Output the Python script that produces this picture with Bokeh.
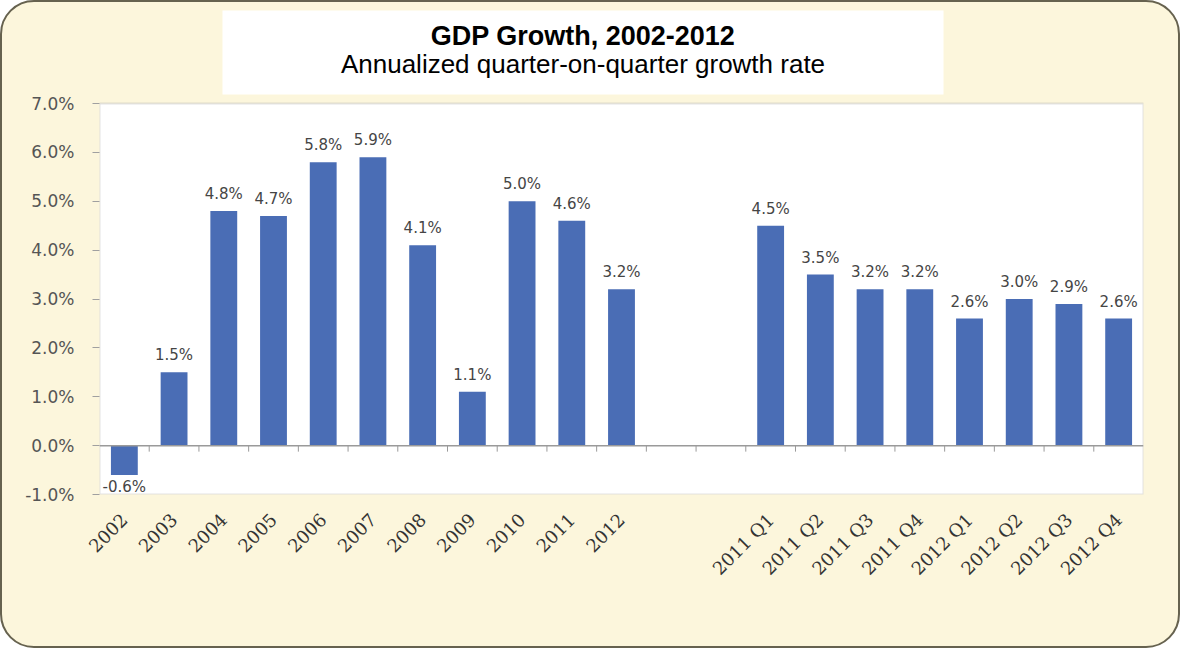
import math
from bokeh.plotting import figure
from bokeh.models import (ColumnDataSource, FactorRange, Range1d, FixedTicker,
                          PrintfTickFormatter, BoxAnnotation, Label, Span)
from bokeh.transform import dodge
from bokeh.core.properties import value
from bokeh.embed import file_html
from bokeh.resources import INLINE

# ---------------- data ----------------
annual_labels = ["2002", "2003", "2004", "2005", "2006", "2007", "2008",
                 "2009", "2010", "2011", "2012"]
annual_values = [-0.6, 1.5, 4.8, 4.7, 5.8, 5.9, 4.1, 1.1, 5.0, 4.6, 3.2]
gap_labels = [" ", "  "]
quarter_labels = ["2011 Q1", "2011 Q2", "2011 Q3", "2011 Q4",
                  "2012 Q1", "2012 Q2", "2012 Q3", "2012 Q4"]
quarter_values = [4.5, 3.5, 3.2, 3.2, 2.6, 3.0, 2.9, 2.6]
y_ticks = [-1, 0, 1, 2, 3, 4, 5, 6, 7]
title_text = "GDP Growth, 2002-2012"
subtitle_text = "Annualized quarter-on-quarter growth rate"

# ---------------- derived ----------------
factors = annual_labels + gap_labels + quarter_labels
cats = annual_labels + quarter_labels
vals = annual_values + quarter_values
labels = [f"{v:.1f}%" for v in vals]

src = ColumnDataSource(dict(cat=cats, val=vals, label=labels))
pos = [i for i, v in enumerate(vals) if v >= 0]
neg = [i for i, v in enumerate(vals) if v < 0]
pos_src = ColumnDataSource(dict(cat=[cats[i] for i in pos], val=[vals[i] for i in pos],
                                label=[labels[i] for i in pos]))
neg_src = ColumnDataSource(dict(cat=[cats[i] for i in neg], val=[vals[i] for i in neg],
                                label=[labels[i] for i in neg]))
tick_src = ColumnDataSource(dict(cat=factors[1:], zero=[0] * (len(factors) - 1)))

# ---------------- layout (pixels) ----------------
W, H = 1180, 648                 # canvas (plus 2px css border each side)
ML, MR, MT, MB = 97, 39, 4, 156  # frame extends up to hold the title box
FW = W - ML - MR
PLOT_TOP_PX = 101                # top of the white plot area, canvas px
FRAME_BOTTOM_PX = H - MB
y_lo, y_hi = y_ticks[0], y_ticks[-1]
ppu = (FRAME_BOTTOM_PX - PLOT_TOP_PX) / (y_hi - y_lo)


def px_to_y(py):
    return y_hi + (PLOT_TOP_PX - py) / ppu


y_top = px_to_y(MT)

p = figure(width=W, height=H, x_range=FactorRange(*factors), y_range=Range1d(y_lo, y_top),
           output_backend="svg", toolbar_location=None, title=None,
           min_border_left=ML, min_border_right=MR, min_border_top=MT, min_border_bottom=MB,
           border_fill_color=None, background_fill_color=None, outline_line_color=None)
p.styles = {"background-color": "#FCF6DC", "border": "2px solid #66624f",
            "border-radius": "34px"}

# white plot area
p.add_layout(BoxAnnotation(left=0, right=FW, left_units="screen", right_units="screen",
                           bottom=y_lo, top=y_hi, fill_color="white", fill_alpha=1,
                           line_color="#a3a3a3", line_width=2, level="underlay"))
# white title box
p.add_layout(BoxAnnotation(left=220 - ML, right=941 - ML, left_units="screen",
                           right_units="screen", bottom=px_to_y(92), top=px_to_y(8),
                           fill_color="white", fill_alpha=1, line_color=None,
                           level="underlay"))

# bars
p.vbar(x="cat", top="val", width=0.54, source=src, fill_color="#4A6DB5", line_color=None)

# zero line and boundary ticks
p.add_layout(Span(location=0, dimension="width", line_color="#9a9a9a", line_width=1.5))
p.ray(x=dodge("cat", -0.5, range=p.x_range), y="zero", length=6, length_units="screen",
      angle=-math.pi / 2, source=tick_src, line_color="#9a9a9a", line_width=1)

# data labels
p.text(x="cat", y="val", text="label", source=pos_src, text_align="center",
       text_baseline="alphabetic", y_offset=-17, text_font=value("DejaVu Sans"),
       text_font_size=value("15px"), text_color="#454545")
p.text(x="cat", y="val", text="label", source=neg_src, text_align="center",
       text_baseline="top", y_offset=3, text_font=value("DejaVu Sans"),
       text_font_size=value("15px"), text_color="#454545")

# axes
p.xgrid.visible = False
p.ygrid.visible = False
ya = p.yaxis[0]
ya.ticker = FixedTicker(ticks=y_ticks)
ya.formatter = PrintfTickFormatter(format="%.1f%%")
ya.major_label_text_font = "DejaVu Sans"
ya.major_label_text_font_size = "17px"
ya.major_label_text_color = "#555555"
ya.major_tick_out = 7
ya.major_tick_in = 0
ya.major_tick_line_color = "#a0a0a0"
ya.minor_tick_line_color = None
ya.axis_line_color = None
ya.major_label_standoff = 18

xa = p.xaxis[0]
xa.major_label_orientation = math.pi / 4
xa.major_label_text_font = "DejaVu Serif"
xa.major_label_text_font_size = "18px"
xa.major_label_text_color = "#333333"
xa.axis_line_color = None
xa.major_tick_line_color = None
xa.minor_tick_line_color = None
xa.major_label_standoff = 16

# titles
title_cx = 580.5 - ML
p.add_layout(Label(x=title_cx, y=px_to_y(33), x_units="screen", y_units="data",
                   text=title_text, text_align="center", text_baseline="middle",
                   text_font="Liberation Sans", text_font_size="27px",
                   text_font_style="bold", text_color="black"))
p.add_layout(Label(x=title_cx, y=px_to_y(61), x_units="screen", y_units="data",
                   text=subtitle_text, text_align="center", text_baseline="middle",
                   text_font="Liberation Sans", text_font_size="26px", text_color="black"))

open("out.html", "w").write(file_html(p, INLINE))
